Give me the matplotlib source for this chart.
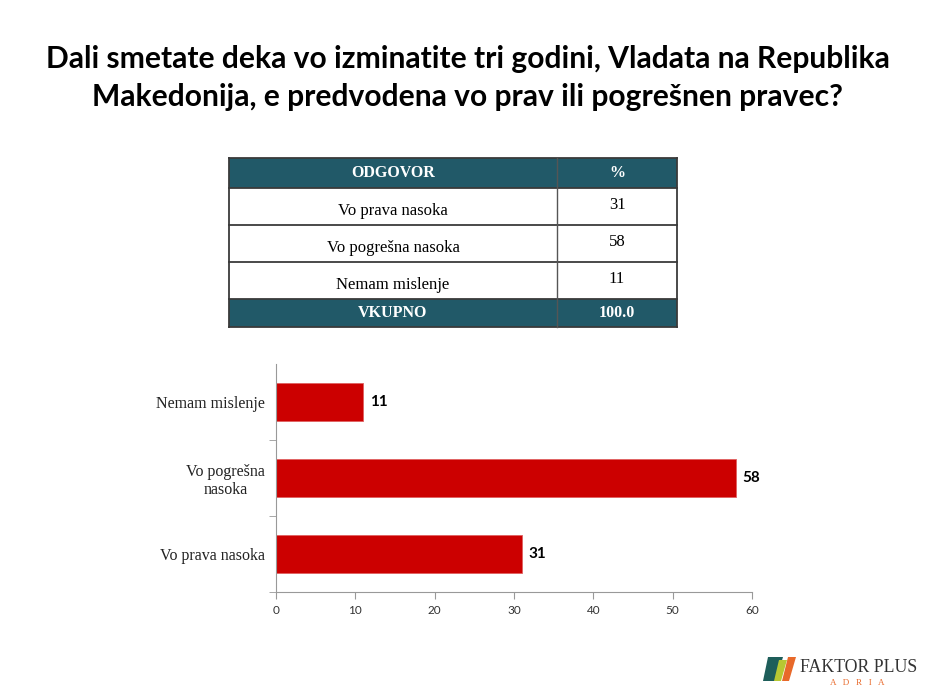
import matplotlib
matplotlib.use("Agg")
import matplotlib.pyplot as plt
from matplotlib.patches import Rectangle, Polygon

# data
answers = ["Vo prava nasoka", "Vo pogrešna nasoka", "Nemam mislenje"]
bar_labels = ["Vo prava nasoka", "Vo pogrešna\nnasoka", "Nemam mislenje"]
percents = [31, 58, 11]
total_label = "VKUPNO"
total_value = "100.0"
header = ["ODGOVOR", "%"]
x_ticks = [0, 10, 20, 30, 40, 50, 60]

TEAL = "#215968"
RED = "#CC0000"
SERIF = "Liberation Serif"

W, H = 935, 700
fig = plt.figure(figsize=(W / 100, H / 100), dpi=100, facecolor="white")

# title
fig.text(0.5, 1 - 59 / H, "Dali smetate deka vo izminatite tri godini, Vladata na Republika",
         ha="center", va="center", fontsize=21.6, fontweight="bold", family="Lato", color="black")
fig.text(0.5, 1 - 97 / H, "Makedonija, e predvodena vo prav ili pogrešnen pravec?",
         ha="center", va="center", fontsize=21.6, fontweight="bold", family="Lato", color="black")

# table drawn in pixel coordinates
tab = fig.add_axes([0, 0, 1, 1])
tab.set_xlim(0, W)
tab.set_ylim(H, 0)
tab.axis("off")

x0, xm, x1 = 229, 557, 677
row_edges = [158, 188, 225, 262, 299, 327]
rows = [header] + [[a, str(p)] for a, p in zip(answers, percents)] + [[total_label, total_value]]
for i, (lab, val) in enumerate(rows):
    top, bot = row_edges[i], row_edges[i + 1]
    filled = i == 0 or i == len(rows) - 1
    tab.add_patch(Rectangle((x0, top), x1 - x0, bot - top,
                            facecolor=TEAL if filled else "white", edgecolor="none"))
    if filled:
        kw = dict(color="white", fontweight="bold", fontsize=11.5)
        yc = (top + bot) / 2
        tab.text((x0 + xm) / 2, yc, lab, ha="center", va="center", family=SERIF, **kw)
        tab.text((xm + x1) / 2, yc, val, ha="center", va="center", family=SERIF, **kw)
    else:
        tab.text((x0 + xm) / 2, top + 23, lab, ha="center", va="center",
                 family=SERIF, fontsize=12, color="black")
        tab.text((xm + x1) / 2, top + 17, val, ha="center", va="center",
                 family=SERIF, fontsize=12, color="black")
for y in row_edges:
    tab.plot([x0, x1], [y, y], color="#3a3a3a", lw=1.3)
tab.plot([x0, x0], [row_edges[0], row_edges[-1]], color="#3a3a3a", lw=1.3)
tab.plot([x1, x1], [row_edges[0], row_edges[-1]], color="#3a3a3a", lw=1.3)
tab.plot([xm, xm], [row_edges[0], row_edges[-1]], color="#555555", lw=1.0)

# logo
tab.add_patch(Polygon([(768, 657), (783, 657), (776, 681), (763, 681)], closed=True,
                      facecolor="#1E5E5A", edgecolor="none"))
tab.add_patch(Polygon([(779, 660), (787, 660), (781, 681), (774, 681)], closed=True,
                      facecolor="#B8C832", edgecolor="none"))
tab.add_patch(Polygon([(788, 657), (796, 657), (789, 681), (782, 681)], closed=True,
                      facecolor="#E8692A", edgecolor="none"))
tab.text(800, 667, "FAKTOR PLUS", ha="left", va="center", family=SERIF,
         fontsize=12.8, color="#333333")
tab.text(857, 683, "A   D   R   I   A", ha="center", va="center", family=SERIF,
         fontsize=6.5, color="#E8692A")

# bar chart
ax = fig.add_axes([276 / W, 1 - 592 / H, (752 - 276) / W, (592 - 364) / H])
ypos = list(range(len(bar_labels)))
ax.barh(ypos, percents, height=0.5, color=RED, edgecolor="#E06060", linewidth=0.6)
for y, v in zip(ypos, percents):
    ax.text(v + 0.8, y, str(v), ha="left", va="center", fontsize=11,
            fontweight="bold", family="Lato", color="black")
ax.set_xlim(0, 60)
ax.set_ylim(-0.5, 2.5)
ax.set_xticks(x_ticks)
ax.set_xticklabels([str(t) for t in x_ticks], family="Lato", fontsize=8.5, color="#333333")
ax.set_yticks(ypos)
ax.set_yticklabels(bar_labels, family=SERIF, fontsize=11.5, color="#222222",
                   multialignment="center")
ax.set_yticks([-0.5, 0.5, 1.5], minor=True)
ax.tick_params(axis="y", which="major", length=0, pad=8)
ax.tick_params(axis="y", which="minor", length=5, color="#999999", direction="out")
ax.tick_params(axis="x", length=5, color="#999999", direction="out", pad=4)
for s in ["top", "right"]:
    ax.spines[s].set_visible(False)
for s in ["left", "bottom"]:
    ax.spines[s].set_color("#999999")
    ax.spines[s].set_linewidth(0.8)
ax.set_facecolor("none")

plt.savefig("out.png", dpi=100, facecolor="white")
